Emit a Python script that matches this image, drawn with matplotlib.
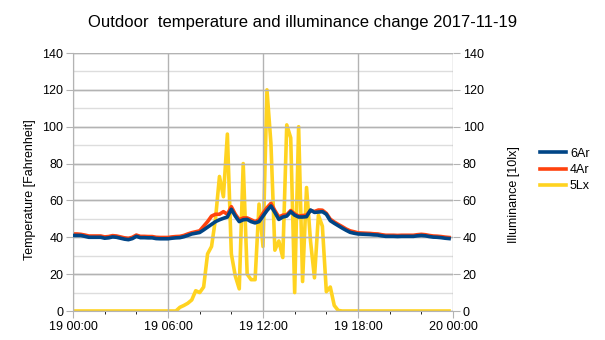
import matplotlib
matplotlib.use("Agg")
import matplotlib.pyplot as plt
import numpy as np

plt.rcParams['font.family'] = ['Liberation Sans', 'DejaVu Sans']

# time in hours since 2017-11-19 00:00, 15-minute samples
hours = np.arange(0, 24, 0.25)

t6ar = [41, 41, 41, 40.5, 40, 40, 40, 40, 39.5, 39.7, 40.2, 40, 39.5, 39, 38.7, 39.3,
        40.5, 39.8, 39.8, 39.7, 39.7, 39.3, 39.2, 39.2, 39.2, 39.5, 39.7, 39.8, 40.3, 41, 41.8, 42.2,
        42.6, 44, 45.5, 47, 48.5, 49.5, 50.3, 51, 55.2, 51.5, 48.5, 49.5, 49.7, 48.5, 47.8, 48.5,
        51.5, 54.5, 57, 53.5, 49.7, 51, 51.5, 53.9, 52, 51, 51, 51.2, 54.8, 53.5, 53.7, 53.9,
        52.5, 49, 47.6, 46.3, 45, 43.8, 42.7, 42.2, 41.8, 41.7, 41.6, 41.5, 41.3, 41.2, 40.8, 40.5,
        40.5, 40.5, 40.4, 40.5, 40.5, 40.5, 40.5, 40.8, 41, 40.8, 40.4, 40.1, 40, 39.8, 39.5, 39.3]

t4ar = [41.8, 41.8, 41.6, 41.2, 40.7, 40.7, 40.7, 40.7, 40.2, 40.4, 40.9, 40.7, 40.2, 39.7, 39.4, 40,
        41.2, 40.5, 40.5, 40.4, 40.4, 40, 39.9, 39.9, 39.9, 40.2, 40.4, 40.5, 41, 41.8, 42.5, 43,
        43.5, 46, 48.5, 51.5, 52.5, 52.5, 53.9, 52.5, 56.6, 52.5, 49.5, 50.5, 50.5, 49.5, 48.5, 49.5,
        53, 56, 58.4, 54.5, 51, 52, 52.2, 54.5, 52.7, 51.5, 51.8, 52, 54.5, 54, 54.8, 54.7,
        53, 49.8, 48.3, 47, 45.8, 44.5, 43.5, 43, 42.4, 42.3, 42.2, 42.1, 41.9, 41.8, 41.4, 41.1,
        41.1, 41.1, 41, 41.1, 41.1, 41.1, 41.1, 41.4, 41.6, 41.4, 41, 40.7, 40.6, 40.4, 40.1, 39.9]

lx5 = [0, 0, 0, 0, 0, 0, 0, 0, 0, 0, 0, 0, 0, 0, 0, 0,
       0, 0, 0, 0, 0, 0, 0, 0, 0, 0, 0, 2, 3, 4.2, 6, 11,
       10, 13, 31, 35, 50, 73, 62, 96, 31, 19, 12, 80, 20, 17, 17, 58,
       35, 120, 91, 33, 38, 29, 101, 94, 10, 100, 16, 67, 38, 18, 52, 46,
       10.5, 13, 3, 0.3, 0, 0, 0, 0, 0, 0, 0, 0, 0, 0, 0, 0,
       0, 0, 0, 0, 0, 0, 0, 0, 0, 0, 0, 0, 0, 0, 0, 0]

xtick_pos = [0, 6, 12, 18, 24]
xtick_labels = ["19 00:00", "19 06:00", "19 12:00", "19 18:00", "20 00:00"]

fig = plt.figure(figsize=(6.05, 3.40), dpi=100)
ax = fig.add_axes([73/605, 1-311/340, 380/605, 258/340])
ax2 = ax.twinx()

major_c = '#b3b3b3'
minor_c = '#dddddd'

for a in (ax, ax2):
    a.set_ylim(0, 140)
    a.set_yticks(np.arange(0, 141, 20))
    a.set_xlim(0, 24)
    for s in a.spines.values():
        s.set_visible(False)
ax.set_xticks(xtick_pos)
ax.set_xticklabels(xtick_labels)
ax.spines['left'].set_visible(True)
ax.spines['left'].set_color(major_c)
ax.spines['bottom'].set_visible(True)
ax.spines['bottom'].set_color(major_c)

ax.tick_params(axis='both', which='major', labelsize=9, color=major_c, length=5, pad=2)
ax2.tick_params(axis='y', labelsize=9, color=major_c, length=5, pad=2)

l1, = ax.plot(hours, t6ar, color='#004586', lw=2.6, label='6Ar', zorder=3)
l2, = ax.plot(hours, t4ar, color='#ff420e', lw=2.6, label='4Ar', zorder=2)
l3, = ax2.plot(hours, lx5, color='#ffd320', lw=2.6, label='5Lx', zorder=1)

# temperature lines drawn above illuminance; grid drawn on the lower axes
ax.set_zorder(ax2.get_zorder() + 1)
ax.patch.set_visible(False)
ax2.patch.set_visible(True)
ax2.patch.set_facecolor('white')
ax2.set_xticks(np.arange(0, 25, 2), minor=True)
ax2.set_yticks(np.arange(0, 141, 10), minor=True)
ax2.grid(True, which='minor', axis='both', color=minor_c, lw=1)
ax2.grid(True, which='major', axis='y', color=major_c, lw=1)
ax2.set_axisbelow(True)
ax2.tick_params(axis='y', which='minor', length=0)
ax2.tick_params(axis='x', which='both', length=0, labelbottom=False)
ax.yaxis.grid(True, which='major', color=major_c, lw=1)
ax.xaxis.grid(True, which='major', color=major_c, lw=1)

ax.set_ylabel('Temperature [Fahrenheit]', fontsize=9)
ax.yaxis.set_label_coords((36-73)/380, (311-190)/258)
ax2.set_ylabel('Illuminance [10lx]', fontsize=9)
ax2.yaxis.set_label_coords((508-73)/380, (311-195)/258)

fig.text(0.5, 1-22/340, 'Outdoor  temperature and illuminance change 2017-11-19',
         ha='center', va='center', fontsize=12)

fig.legend([l1, l2, l3], ['6Ar', '4Ar', '5Lx'], loc='center left',
           bbox_to_anchor=(535/605, 1-170/340), frameon=False, fontsize=9,
           handlelength=2.1, handletextpad=0.3, labelspacing=0.35, borderaxespad=0)

fig.savefig('out.png', dpi=100)
